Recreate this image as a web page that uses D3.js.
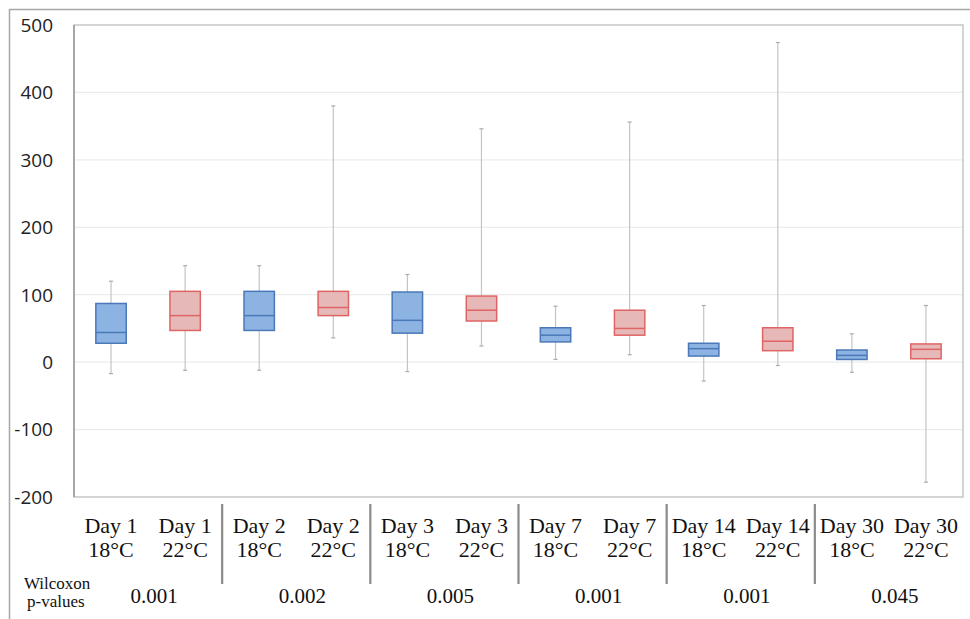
<!DOCTYPE html>
<meta charset="utf-8">
<style>
body{ margin:0; background:#fff; }
.tick-label{ font-family:"Open Sans", sans-serif; font-size:19px; fill:#222; }
.cat{ font-family:"Liberation Serif", "Times New Roman", serif; font-size:22px; fill:#111; }
.pval{ font-family:"Liberation Serif", "Times New Roman", serif; font-size:21px; fill:#111; }
.wlab{ font-family:"Liberation Serif", "Times New Roman", serif; font-size:17px; fill:#111; }
</style>
<body>
<script src="https://d3js.org/d3.v7.min.js"></script>
<script>

var days = ["Day 1","Day 1","Day 2","Day 2","Day 3","Day 3","Day 7","Day 7","Day 14","Day 14","Day 30","Day 30"];
var temps = ["18°C","22°C","18°C","22°C","18°C","22°C","18°C","22°C","18°C","22°C","18°C","22°C"];
var whiskerHigh = [120, 143, 143, 380, 130, 346, 83, 356, 84, 474, 42, 84];
var q3 = [87, 105, 105, 105, 104, 98, 51, 77, 28, 51, 18, 27];
var median = [44, 69, 69, 81, 62, 77, 40, 50, 20, 31, 10, 19];
var q1 = [28, 47, 47, 69, 43, 61, 30, 40, 9, 17, 4, 5];
var whiskerLow = [-17, -12, -12, 36, -14, 24, 4, 11, -28, -5, -15, -178];
var pValues = ["0.001","0.002","0.005","0.001","0.001","0.045"];
var yTicks = [-200,-100,0,100,200,300,400,500];

var W = 970, H = 619;
var plotLeft = 74, plotRight = 963, plotTop = 25, plotBottom = 497;

var svg = d3.select("body").append("svg").attr("width", W).attr("height", H);

// outer frame
svg.append("rect").attr("x",9.5).attr("y",9.5).attr("width",W).attr("height",H)
	.attr("fill","none").attr("stroke","#a6a6a6").attr("stroke-width",1.5);

var idx = d3.range(days.length);
var x = d3.scaleBand().domain(idx).range([plotLeft, plotRight]).padding(0);
var y = d3.scaleLinear().domain([-200, 500]).range([plotBottom, plotTop]);

// gridlines
svg.append("g").selectAll("line").data(yTicks.filter(d=>d>-200 && d<500)).join("line")
	.attr("x1",plotLeft).attr("x2",plotRight)
	.attr("y1",d=>y(d)).attr("y2",d=>y(d))
	.attr("stroke","#ececec").attr("stroke-width",1.2);

// plot border
svg.append("rect").attr("x",plotLeft).attr("y",plotTop).attr("width",plotRight-plotLeft).attr("height",plotBottom-plotTop)
	.attr("fill","none").attr("stroke","#b8b8b8").attr("stroke-width",1.2);
svg.append("line").attr("x1",plotLeft).attr("x2",plotLeft).attr("y1",plotTop).attr("y2",plotBottom)
	.attr("stroke","#999").attr("stroke-width",1.5);

// y tick labels
svg.append("g").selectAll("text").data(yTicks).join("text")
	.attr("class","tick-label")
	.attr("x",53).attr("y",d=>y(d))
	.attr("text-anchor","end").attr("dy","0.36em")
	.text(d=>d);

var fills = ["#8db3e2","#e6b9b8"], strokes = ["#4a78b8","#df6464"];
var bw = x.bandwidth()*0.41;

var boxes = svg.append("g").selectAll("g").data(idx).join("g")
	.attr("transform",i=>"translate("+(x(i)+x.bandwidth()/2)+",0)");

// whiskers
boxes.append("line").attr("x1",0).attr("x2",0)
	.attr("y1",i=>y(whiskerHigh[i])).attr("y2",i=>y(whiskerLow[i]))
	.attr("stroke","#c4c4c4").attr("stroke-width",1.2);
[whiskerHigh, whiskerLow].forEach(function(arr){
	boxes.append("line").attr("x1",-2).attr("x2",2)
		.attr("y1",i=>y(arr[i])).attr("y2",i=>y(arr[i]))
		.attr("stroke","#aaa").attr("stroke-width",1.2);
});

boxes.append("rect")
	.attr("x",-bw/2).attr("width",bw)
	.attr("y",i=>y(q3[i])).attr("height",i=>y(q1[i])-y(q3[i]))
	.attr("fill",i=>fills[i%2]).attr("stroke",i=>strokes[i%2]).attr("stroke-width",1.5);
boxes.append("line").attr("x1",-bw/2).attr("x2",bw/2)
	.attr("y1",i=>y(median[i])).attr("y2",i=>y(median[i]))
	.attr("stroke",i=>strokes[i%2]).attr("stroke-width",1.5);

// category labels
boxes.append("text").attr("class","cat").attr("text-anchor","middle")
	.attr("y",533).text(i=>days[i]);
boxes.append("text").attr("class","cat").attr("text-anchor","middle")
	.attr("y",557).text(i=>temps[i]);

// separators between day pairs
svg.append("g").selectAll("line").data(d3.range(2, days.length, 2)).join("line")
	.attr("x1",i=>x(i)).attr("x2",i=>x(i))
	.attr("y1",504).attr("y2",584)
	.attr("stroke","#8a8a8a").attr("stroke-width",2.2);

// Wilcoxon p-values
svg.append("text").attr("class","wlab").attr("x",24).attr("y",589).text("Wilcoxon");
svg.append("text").attr("class","wlab").attr("x",27).attr("y",607).text("p-values");

svg.append("g").selectAll("text").data(pValues).join("text")
	.attr("class","pval").attr("text-anchor","middle")
	.attr("x",(d,k)=>x(2*k+1)+6).attr("y",603)
	.text(d=>d);

</script>
</body>
